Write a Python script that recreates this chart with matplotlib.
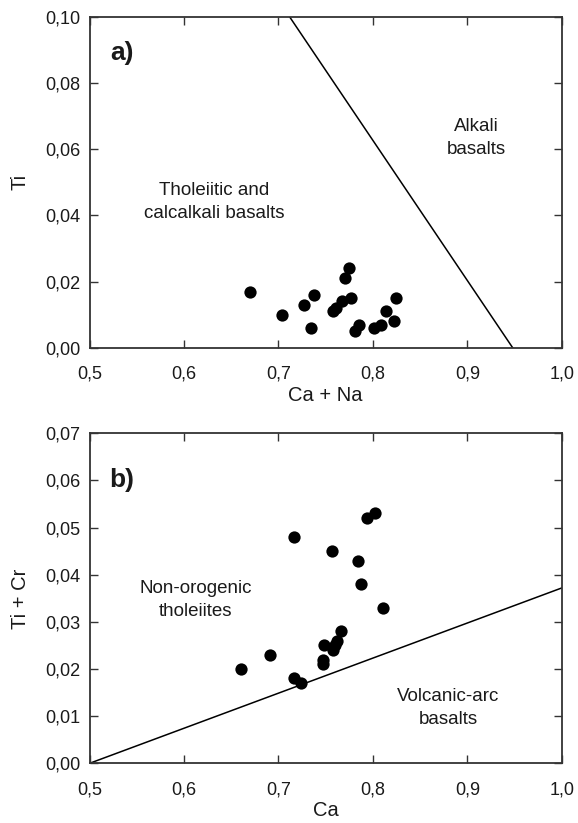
import matplotlib
matplotlib.use("Agg")
import matplotlib.pyplot as plt

plt.rcParams['font.family'] = ['Liberation Sans', 'DejaVu Sans']

# Panel a data
a_x = [0.670, 0.704, 0.727, 0.738, 0.734, 0.758, 0.761, 0.767, 0.770, 0.775,
       0.777, 0.781, 0.785, 0.801, 0.809, 0.814, 0.822, 0.825]
a_y = [0.017, 0.010, 0.013, 0.016, 0.006, 0.011, 0.012, 0.014, 0.021, 0.024,
       0.015, 0.005, 0.007, 0.006, 0.007, 0.011, 0.008, 0.015]
a_line_x = [0.712, 0.948]
a_line_y = [0.10, 0.0]

# Panel b data
b_x = [0.660, 0.691, 0.716, 0.717, 0.724, 0.747, 0.747, 0.748, 0.757, 0.758,
       0.760, 0.762, 0.766, 0.784, 0.787, 0.794, 0.802, 0.811]
b_y = [0.020, 0.023, 0.048, 0.018, 0.017, 0.022, 0.021, 0.025, 0.045, 0.024,
       0.025, 0.026, 0.028, 0.043, 0.038, 0.052, 0.053, 0.033]
b_line_x = [0.5, 1.0]
b_line_y = [0.0, 0.0372]

x_ticks = [0.5, 0.6, 0.7, 0.8, 0.9, 1.0]
x_ticklabels = ['0,5', '0,6', '0,7', '0,8', '0,9', '1,0']
a_yticks = [0.0, 0.02, 0.04, 0.06, 0.08, 0.10]
a_yticklabels = ['0,00', '0,02', '0,04', '0,06', '0,08', '0,10']
b_yticks = [0.0, 0.01, 0.02, 0.03, 0.04, 0.05, 0.06, 0.07]
b_yticklabels = ['0,00', '0,01', '0,02', '0,03', '0,04', '0,05', '0,06', '0,07']

TXT = '#1a1a1a'
fig = plt.figure(figsize=(5.78, 8.23), dpi=100)
axa = fig.add_axes([0.1549, 0.5775, 0.817, 0.4018])
axb = fig.add_axes([0.1549, 0.0725, 0.817, 0.4010])


def style(ax, yticks, yticklabels, xlabel, ylabel):
    ax.set_xlim(0.5, 1.0)
    ax.set_ylim(yticks[0], yticks[-1])
    ax.set_xticks(x_ticks)
    ax.set_xticklabels(x_ticklabels)
    ax.set_yticks(yticks)
    ax.set_yticklabels(yticklabels)
    ax.tick_params(direction='in', length=6, width=1.0, top=True, right=True,
                   labelsize=13, colors='#333333', labelcolor=TXT)
    ax.tick_params(axis='x', pad=13)
    ax.tick_params(axis='y', pad=6.5)
    for s in ax.spines.values():
        s.set_linewidth(1.3)
        s.set_color('#333333')
    ax.set_xlabel(xlabel, fontsize=14.5, color=TXT, labelpad=2)
    ax.set_ylabel(ylabel, fontsize=14.5, color=TXT, labelpad=11)


style(axa, a_yticks, a_yticklabels, 'Ca + Na', 'Ti')
axa.plot(a_line_x, a_line_y, color='black', lw=1.1)
axa.scatter(a_x, a_y, s=78, color='black', zorder=3, linewidths=0)
axa.text(0.522, 0.0891, 'a)', fontsize=19, fontweight='bold', color=TXT,
         ha='left', va='center')
axa.text(0.632, 0.0441, 'Tholeiitic and\ncalcalkali basalts', fontsize=13.5,
         color=TXT, ha='center', va='center', linespacing=1.45)
axa.text(0.910, 0.0633, 'Alkali\nbasalts', fontsize=13.5, color=TXT,
         ha='center', va='center', linespacing=1.45)

style(axb, b_yticks, b_yticklabels, 'Ca', 'Ti + Cr')
axb.plot(b_line_x, b_line_y, color='black', lw=1.1)
axb.scatter(b_x, b_y, s=78, color='black', zorder=3, linewidths=0)
axb.text(0.521, 0.0601, 'b)', fontsize=19, fontweight='bold', color=TXT,
         ha='left', va='center')
axb.text(0.612, 0.0346, 'Non-orogenic\ntholeiites', fontsize=13.5, color=TXT,
         ha='center', va='center', linespacing=1.45)
axb.text(0.880, 0.0117, 'Volcanic-arc\nbasalts', fontsize=13.5, color=TXT,
         ha='center', va='center', linespacing=1.45)

fig.savefig('out.png', dpi=100)
